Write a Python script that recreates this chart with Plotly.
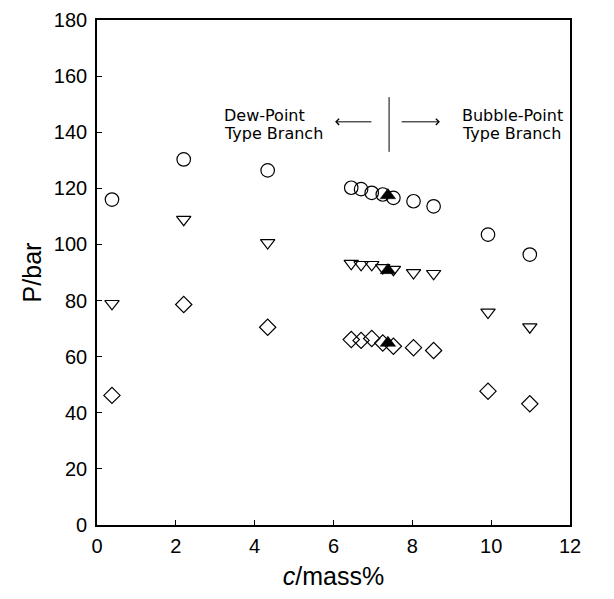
import plotly.graph_objects as go

# ---- data ----
conc = [0.38, 2.2, 4.33, 6.45, 6.7, 6.97, 7.25, 7.52, 8.03, 8.54, 9.92, 10.98]
p_circle = [116.0, 130.3, 126.4, 120.2, 119.7, 118.4, 117.8, 116.6, 115.4, 113.6, 103.5, 96.4]
p_tri_down = [78.9, 108.9, 100.6, 93.2, 92.8, 92.8, 91.7, 91.1, 89.9, 89.6, 75.8, 70.6]
p_diamond = [46.2, 78.6, 70.5, 66.1, 65.8, 66.5, 64.9, 63.7, 63.2, 62.2, 47.7, 43.2]

crit_conc = [7.38, 7.38, 7.38]
crit_p = [117.5, 90.8, 64.9]

x_ticks = [0, 2, 4, 6, 8, 10, 12]
y_ticks = [0, 20, 40, 60, 80, 100, 120, 140, 160, 180]

FONT = "Liberation Sans, Arial, Helvetica, sans-serif"
ANN_FONT = "DejaVu Sans, Liberation Sans, sans-serif"

fig = go.Figure()
mk_line = dict(color="black", width=1.2)
fig.add_trace(go.Scatter(x=conc, y=p_circle, mode="markers",
                         marker=dict(symbol="circle-open", size=13.5, line=mk_line, color="black")))
fig.add_trace(go.Scatter(x=conc, y=p_tri_down, mode="markers",
                         marker=dict(symbol="triangle-down-open", size=12.5, line=mk_line, color="black")))
fig.add_trace(go.Scatter(x=conc, y=p_diamond, mode="markers",
                         marker=dict(symbol="diamond-open", size=12.5, line=mk_line, color="black")))
fig.add_trace(go.Scatter(x=crit_conc, y=crit_p, mode="markers",
                         marker=dict(symbol="triangle-up", size=13.5, color="black",
                                     line=dict(color="black", width=0.5))))

# vertical divider
fig.add_shape(type="line", x0=7.41, x1=7.41, y0=133.0, y1=152.5, xref="x", yref="y",
              line=dict(color="black", width=1))

ann_font = dict(family=ANN_FONT, size=16, color="black")
for txt, xx, yy in [("Dew-Point", 3.17, 146.1), ("Type Branch", 3.17, 139.6),
                    ("Bubble-Point", 9.21, 146.1), ("Type Branch", 9.21, 139.6)]:
    fig.add_annotation(x=xx, y=yy, xref="x", yref="y", text=txt, showarrow=False,
                       xanchor="left", yanchor="middle", font=ann_font)
# arrows
fig.add_annotation(x=6.04, y=143.7, ax=7.0, ay=143.7, xref="x", yref="y", axref="x", ayref="y",
                   text="", showarrow=True, arrowhead=4, arrowsize=1.2, arrowwidth=1, arrowcolor="black")
fig.add_annotation(x=8.7, y=143.7, ax=7.69, ay=143.7, xref="x", yref="y", axref="x", ayref="y",
                   text="", showarrow=True, arrowhead=4, arrowsize=1.2, arrowwidth=1, arrowcolor="black")

axis_common = dict(showgrid=False, zeroline=False, showline=True, linecolor="black", linewidth=1.6,
                   mirror=True, ticks="inside", ticklen=5, tickwidth=1, tickcolor="black",
                   automargin=False,
                   tickfont=dict(family=FONT, size=20, color="black"))

fig.update_xaxes(range=[0, 12], tickvals=x_ticks, ticktext=[str(v) for v in x_ticks],
                 title=dict(text="<i>c</i>/mass%", font=dict(family=FONT, size=25, color="black"), standoff=12),
                 ticklabelstandoff=2, **axis_common)
fig.update_yaxes(range=[0, 180], tickvals=y_ticks, ticktext=[str(v) for v in y_ticks],
                 title=dict(text="P/bar", font=dict(family=FONT, size=25, color="black"), standoff=5),
                 ticklabelstandoff=4, **axis_common)

fig.update_layout(width=614, height=599, showlegend=False,
                  plot_bgcolor="white", paper_bgcolor="white",
                  margin=dict(l=89, r=52, t=12, b=82))

fig.write_html("out.html")
